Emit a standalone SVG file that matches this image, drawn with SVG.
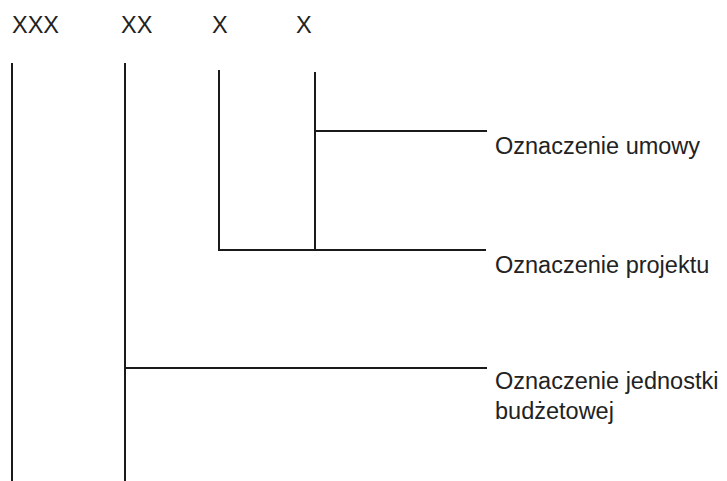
<svg xmlns="http://www.w3.org/2000/svg" width="727" height="481" viewBox="0 0 727 481">
<style>
text{font-family:"Liberation Sans",Arial,sans-serif;font-size:23.5px;fill:#222}
.ln{stroke:#1a1a1a;stroke-width:2;fill:none}
</style>
<rect width="727" height="481" fill="#fff"/>
<g id="hdr-xxx"><text x="12" y="33">XXX</text></g>
<g id="hdr-xx"><text x="121" y="33">XX</text></g>
<g id="hdr-x1"><text x="212" y="33">X</text></g>
<g id="hdr-x2"><text x="296" y="33">X</text></g>
<g id="connectors">
<line class="ln" x1="12" y1="63" x2="12" y2="481"/>
<line class="ln" x1="125" y1="63" x2="125" y2="481"/>
<line class="ln" x1="219" y1="70" x2="219" y2="250"/>
<line class="ln" x1="315" y1="72" x2="315" y2="250"/>
<line class="ln" x1="315" y1="131" x2="487" y2="131"/>
<line class="ln" x1="218" y1="250" x2="486" y2="250"/>
<line class="ln" x1="125" y1="368" x2="487" y2="368"/>
</g>
<g id="lbl-umowy"><text x="495" y="154">Oznaczenie umowy</text></g>
<g id="lbl-projektu"><text x="495" y="273">Oznaczenie projektu</text></g>
<g id="lbl-jednostki"><text x="495" y="389">Oznaczenie jednostki</text><text x="495" y="419">budżetowej</text></g>
</svg>
